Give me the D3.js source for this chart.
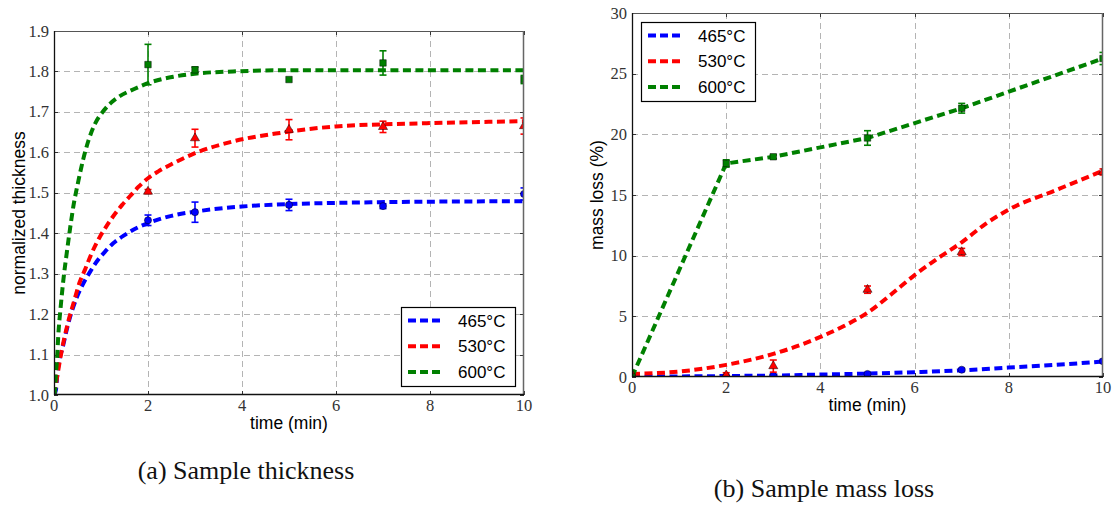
<!DOCTYPE html>
<html><head><meta charset="utf-8">
<script src="https://cdn.jsdelivr.net/npm/d3@7"></script>
<style>body{margin:0;background:#fff}svg{display:block}</style>
</head><body>
<svg id="c" width="1112" height="507"></svg>
<script>
// ---------- shared ----------
const seriesNames = ["465\u00B0C", "530\u00B0C", "600\u00B0C"];
const seriesColors = ["#0000ff", "#ff0000", "#008000"];
const markerShapes = ["circle", "triangle", "square"];
const xTicks = [0, 2, 4, 6, 8, 10];
const xTickLabels = ["0", "2", "4", "6", "8", "10"];

// ---------- (a) thickness ----------
const thickTicks = [1.0, 1.1, 1.2, 1.3, 1.4, 1.5, 1.6, 1.7, 1.8, 1.9];
const thickTickLabels = ["1.0", "1.1", "1.2", "1.3", "1.4", "1.5", "1.6", "1.7", "1.8", "1.9"];
const thickTimes = [2, 3, 5, 7, 10];
const thick465 = [1.432, 1.452, 1.470, 1.467, 1.497];
const thick465Err = [0.013, 0.025, 0.014, 0.006, 0.015];
const thick530 = [1.503, 1.635, 1.656, 1.663, 1.665];
const thick530Err = [0.005, 0.022, 0.025, 0.014, 0.02];
const thick600 = [1.817, 1.804, 1.780, 1.821, 1.780];
const thick600Err = [0.05, 0.007, 0.0, 0.03, 0.01];
// fitted curves
const fit465X = [0, 0.04, 0.07, 0.2, 0.3, 0.48, 0.62, 0.77, 0.91, 1.09, 1.26, 1.51, 1.76, 2.0, 2.5, 3.1, 4.0, 5.0, 6.0, 8.0, 10.0];
const fit465Y = [1.0, 1.012, 1.05, 1.125, 1.175, 1.24, 1.275, 1.305, 1.33, 1.355, 1.375, 1.396, 1.413, 1.425, 1.443, 1.455, 1.466, 1.472, 1.475, 1.478, 1.479];
const fit530X = [0, 0.06, 0.14, 0.3, 0.41, 0.55, 0.66, 0.77, 0.98, 1.12, 1.26, 1.45, 1.62, 1.8, 2.0, 2.22, 2.54, 3.0, 3.81, 4.81, 6.0, 7.93, 10.0];
const fit530Y = [1.0, 1.04, 1.095, 1.18, 1.225, 1.28, 1.31, 1.342, 1.392, 1.418, 1.442, 1.47, 1.492, 1.515, 1.536, 1.553, 1.573, 1.598, 1.627, 1.648, 1.664, 1.672, 1.677];
const fit600X = [0, 0.02, 0.04, 0.07, 0.09, 0.14, 0.2, 0.27, 0.34, 0.41, 0.52, 0.62, 0.73, 0.87, 1.05, 1.2, 1.4, 1.62, 1.87, 2.0, 2.54, 3.04, 3.81, 5.0, 7.0, 10.0];
const fit600Y = [1.0, 1.01, 1.05, 1.099, 1.145, 1.215, 1.285, 1.35, 1.41, 1.465, 1.53, 1.582, 1.628, 1.670, 1.702, 1.721, 1.739, 1.752, 1.765, 1.771, 1.787, 1.795, 1.80, 1.803, 1.803, 1.803];

// ---------- (b) mass loss ----------
const massTicks = [0, 5, 10, 15, 20, 25, 30];
const massTickLabels = ["0", "5", "10", "15", "20", "25", "30"];
const massTimes = [0, 2, 3, 5, 7, 10];
const mass465 = [0.0, 0.05, 0.1, 0.25, 0.6, 1.3];
const mass465Err = [0, 0.05, 0.05, 0.1, 0.1, 0.15];
const mass530 = [0.2, 0.15, 0.9, 7.2, 10.3, 16.9];
const mass530Err = [0, 0.2, 0.5, 0.3, 0.3, 0.25];
const mass600 = [0.0, 17.6, 18.15, 19.7, 22.15, 26.25];
const mass600Err = [0, 0.3, 0.15, 0.6, 0.4, 0.5];
// lines
const line465X = [0, 2, 3, 4, 5, 6, 7, 8, 9, 10];
const line465Y = [0.02, 0.08, 0.12, 0.2, 0.28, 0.4, 0.55, 0.78, 1.0, 1.28];
const line530X = [0, 1, 2, 3, 4, 4.5, 5, 5.5, 6, 6.5, 7, 7.5, 8, 9, 10];
const line530Y = [0.25, 0.45, 1.0, 1.9, 3.3, 4.2, 5.3, 6.8, 8.4, 9.8, 11.1, 12.6, 13.8, 15.4, 17.0];
const line600X = massTimes;
const line600Y = mass600;

const svg = d3.select("#c");

function drawPanel(cfg) {
  const g = svg.append("g");
  const x = d3.scaleLinear().domain([0, 10]).range([cfg.left, cfg.right]);
  const y = d3.scaleLinear().domain(cfg.yDomain).range([cfg.bottom, cfg.top]);
  const clipId = "clip" + cfg.id;
  svg.append("clipPath").attr("id", clipId).append("rect")
    .attr("x", cfg.left).attr("y", cfg.top)
    .attr("width", cfg.right - cfg.left).attr("height", cfg.bottom - cfg.top);

  // grid
  const grid = g.append("g").attr("stroke", "#b4b4b4").attr("stroke-width", 1).attr("stroke-dasharray", "6,4");
  grid.selectAll("line.v").data(xTicks.slice(1, -1)).join("line")
    .attr("x1", d => Math.round(x(d)) + 0.5).attr("x2", d => Math.round(x(d)) + 0.5)
    .attr("y1", cfg.top).attr("y2", cfg.bottom);
  grid.selectAll("line.h").data(cfg.yTicks.slice(1, -1)).join("line")
    .attr("y1", d => Math.round(y(d)) + 0.5).attr("y2", d => Math.round(y(d)) + 0.5)
    .attr("x1", cfg.left).attr("x2", cfg.right);

  // ticks inside (all four sides)
  const tk = g.append("g").attr("stroke", "#333").attr("stroke-width", 1);
  xTicks.forEach(d => {
    const xx = Math.round(x(d)) + 0.5;
    tk.append("line").attr("x1", xx).attr("x2", xx).attr("y1", cfg.bottom).attr("y2", cfg.bottom - 4);
    tk.append("line").attr("x1", xx).attr("x2", xx).attr("y1", cfg.top).attr("y2", cfg.top + 4);
  });
  cfg.yTicks.forEach(d => {
    const yy = Math.round(y(d)) + 0.5;
    tk.append("line").attr("y1", yy).attr("y2", yy).attr("x1", cfg.left).attr("x2", cfg.left + 4);
    tk.append("line").attr("y1", yy).attr("y2", yy).attr("x1", cfg.right).attr("x2", cfg.right - 4);
  });

  // tick labels
  const tl = g.append("g").attr("font-family", "'Liberation Serif', 'Times New Roman', serif")
    .attr("font-size", "16.5px").attr("fill", "#333");
  tl.selectAll("text.x").data(xTicks).join("text")
    .attr("x", d => x(d)).attr("y", cfg.bottom + 16).attr("text-anchor", "middle")
    .text((d, i) => xTickLabels[i]);
  tl.selectAll("text.y").data(cfg.yTicks).join("text")
    .attr("x", cfg.left - 5).attr("y", d => y(d)).attr("dy", "0.34em").attr("text-anchor", "end")
    .text((d, i) => cfg.yTickLabels[i]);

  // data layer
  const data = g.append("g").attr("clip-path", `url(#${clipId})`);
  cfg.series.forEach((s, i) => {
    const line = d3.line().x(d => x(d[0])).y(d => y(d[1])).curve(s.curve);
    const pts = s.lx.map((v, j) => [v, s.ly[j]]);
    data.append("path").attr("d", line(pts)).attr("fill", "none")
      .attr("stroke", seriesColors[i]).attr("stroke-width", 4).attr("stroke-dasharray", "8,4.5");
  });
  cfg.series.forEach((s, i) => {
    const col = seriesColors[i];
    s.px.forEach((t, j) => {
      const v = s.py[j], e = s.pe[j];
      const cx = x(t);
      if (e > 0) {
        data.append("line").attr("x1", cx).attr("x2", cx).attr("y1", y(v - e)).attr("y2", y(v + e))
          .attr("stroke", col).attr("stroke-width", 1.6);
        [v - e, v + e].forEach(w => data.append("line").attr("x1", cx - 3.5).attr("x2", cx + 3.5)
          .attr("y1", y(w)).attr("y2", y(w)).attr("stroke", col).attr("stroke-width", 1.6));
      }
      const shape = markerShapes[i];
      const sym = shape === "circle" ? d3.symbolCircle : shape === "triangle" ? d3.symbolTriangle : d3.symbolSquare;
      const size = shape === "circle" ? 40 : shape === "triangle" ? 36 : 42;
      data.append("path").attr("d", d3.symbol().type(sym).size(size)())
        .attr("transform", `translate(${cx},${y(v)})`)
        .attr("fill", col).attr("stroke", "#000").attr("stroke-width", 0.6).attr("stroke-opacity", 0.8);
    });
  });

  // frame
  g.append("line").attr("x1", cfg.left).attr("x2", cfg.right).attr("y1", cfg.top + 0.5).attr("y2", cfg.top + 0.5).attr("stroke", "#555").attr("stroke-width", 1.2);
  g.append("line").attr("x1", cfg.right - 0.5).attr("x2", cfg.right - 0.5).attr("y1", cfg.top).attr("y2", cfg.bottom).attr("stroke", "#666").attr("stroke-width", 1.5);
  g.append("line").attr("x1", cfg.left + 0.5).attr("x2", cfg.left + 0.5).attr("y1", cfg.top).attr("y2", cfg.bottom).attr("stroke", "#111").attr("stroke-width", 1.3);
  g.append("line").attr("x1", cfg.left).attr("x2", cfg.right).attr("y1", cfg.bottom - 0.5).attr("y2", cfg.bottom - 0.5).attr("stroke", "#111").attr("stroke-width", 1.3);

  // axis titles
  const at = g.append("g").attr("font-family", "'Liberation Sans', Arial, sans-serif").attr("font-size", "17.5px").attr("fill", "#000");
  at.append("text").attr("x", (cfg.left + cfg.right) / 2).attr("y", cfg.xTitleY).attr("text-anchor", "middle").text("time (min)");
  at.append("text").attr("transform", `translate(${cfg.yTitleX},${(cfg.top + cfg.bottom) / 2}) rotate(-90)`)
    .attr("text-anchor", "middle").text(cfg.yTitle);

  // legend
  const lw = 114, lh = 79;
  const lx = cfg.legend === "lr" ? cfg.right - 9 - lw : cfg.left + 9;
  const ly = cfg.legend === "lr" ? cfg.bottom - 9 - lh : cfg.top + 9;
  const lg = g.append("g");
  lg.append("rect").attr("x", lx + 0.5).attr("y", ly + 0.5).attr("width", lw).attr("height", lh)
    .attr("fill", "#fff").attr("stroke", "#000").attr("stroke-width", 1.2);
  seriesNames.forEach((n, i) => {
    const ry = ly + 13.5 + i * 25.8;
    lg.append("line").attr("x1", lx + 7).attr("x2", lx + 39).attr("y1", ry).attr("y2", ry)
      .attr("stroke", seriesColors[i]).attr("stroke-width", 4).attr("stroke-dasharray", "8,4");
    lg.append("text").attr("x", lx + 57).attr("y", ry).attr("dy", "0.36em")
      .attr("font-family", "'Liberation Sans', Arial, sans-serif").attr("font-size", "17px").text(n);
  });

  // caption
  svg.append("text").attr("x", cfg.capX).attr("y", cfg.capY).attr("text-anchor", "middle")
    .attr("font-family", "'Liberation Serif', 'Times New Roman', serif").attr("font-size", "26px").attr("fill", "#111")
    .text(cfg.caption);
}

drawPanel({
  id: "a", left: 54, right: 524, top: 31, bottom: 395,
  yDomain: [1.0, 1.9], yTicks: thickTicks, yTickLabels: thickTickLabels,
  series: [
    { lx: fit465X, ly: fit465Y, px: thickTimes, py: thick465, pe: thick465Err, curve: d3.curveMonotoneX },
    { lx: fit530X, ly: fit530Y, px: thickTimes, py: thick530, pe: thick530Err, curve: d3.curveMonotoneX },
    { lx: fit600X, ly: fit600Y, px: thickTimes, py: thick600, pe: thick600Err, curve: d3.curveMonotoneX }
  ],
  xTitleY: 429, yTitleX: 24.5, yTitle: "normalized thickness", legend: "lr",
  caption: "(a) Sample thickness", capX: 246, capY: 479
});

drawPanel({
  id: "b", left: 632, right: 1103, top: 13, bottom: 377,
  yDomain: [0, 30], yTicks: massTicks, yTickLabels: massTickLabels,
  series: [
    { lx: line465X, ly: line465Y, px: massTimes, py: mass465, pe: mass465Err, curve: d3.curveMonotoneX },
    { lx: line530X, ly: line530Y, px: massTimes, py: mass530, pe: mass530Err, curve: d3.curveMonotoneX },
    { lx: line600X, ly: line600Y, px: massTimes, py: mass600, pe: mass600Err, curve: d3.curveLinear }
  ],
  xTitleY: 411, yTitleX: 603, yTitle: "mass loss (%)", legend: "ul",
  caption: "(b) Sample mass loss", capX: 824, capY: 497
});
</script>
</body></html>
